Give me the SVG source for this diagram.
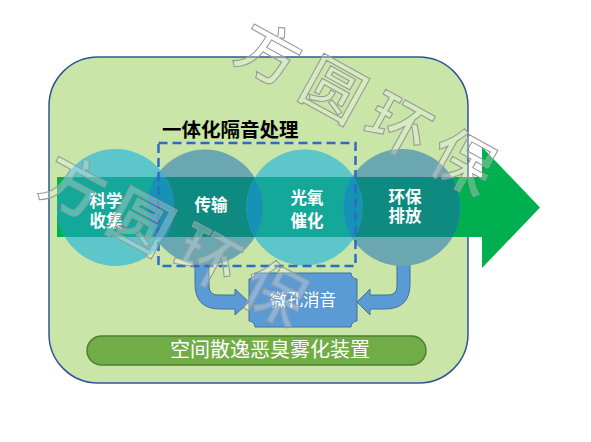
<svg xmlns="http://www.w3.org/2000/svg" width="591" height="442" viewBox="0 0 591 442">
  <defs>
    <clipPath id="cp1"><circle cx="115.5" cy="207.5" r="58.5"/></clipPath>
    <clipPath id="cp2"><circle cx="205" cy="207.5" r="58"/></clipPath>
    <clipPath id="cp3"><circle cx="304.5" cy="207.5" r="58"/></clipPath>
    <clipPath id="cp4"><circle cx="402" cy="207.5" r="58.5"/></clipPath>
    <style>
      .ctext{font-family:"Noto Sans CJK SC","Noto Sans",sans-serif;font-weight:bold;font-size:16.5px;fill:#ffffff;text-anchor:middle}
      .light{fill:#5cc6ca}
      .dark{fill:#6aa7b1}
      .lightband{fill:#14a89a}
      .darkband{fill:#0e8a81}
      .lens{fill:#45b0cc}
      .lensband{fill:#1592b6}
      .blue{fill:#5b9bd5;stroke:#41719c;stroke-width:1}
      .wm{font-family:"Noto Sans CJK SC",sans-serif;font-weight:500;font-size:62px;fill:#ffffff;fill-opacity:0.25;stroke:#9a9a9a;stroke-width:1.1;text-anchor:middle;dominant-baseline:central}
    </style>
  </defs>

  <g id="frame">
    <rect x="49" y="57" width="419" height="326" rx="49" ry="49" fill="#c9e5a8" stroke="#2f5597" stroke-width="1.5"/>
  </g>

  <g id="connectors">
    <path class="blue" d="M195,263 L195,284 Q195,309 220,309 L235,309 L235,315 L249,302 L235,289 L235,295 L218,295 Q209,295 209,286 L209,263 Z"/>
    <path class="blue" d="M410,263 L410,284 Q410,309 385,309 L370,309 L370,315 L357,302 L370,289 L370,295 L388,295 Q397,295 397,286 L397,263 Z"/>
  </g>

  <g id="main-arrow">
    <path d="M57,177 L482,177 L482,147 L540,207.5 L482,268 L482,237 L57,237 Z" fill="#00b050"/>
  </g>

  <g id="circles">
    <circle class="light" cx="115.5" cy="207.5" r="58.5"/>
    <circle class="dark" cx="205" cy="207.5" r="58"/>
    <circle class="light" cx="304.5" cy="207.5" r="58"/>
    <circle class="dark" cx="402" cy="207.5" r="58.5"/>
    <rect class="lightband" x="57" y="177" width="425" height="60" clip-path="url(#cp1)"/>
    <rect class="darkband" x="57" y="177" width="425" height="60" clip-path="url(#cp2)"/>
    <rect class="lightband" x="57" y="177" width="425" height="60" clip-path="url(#cp3)"/>
    <rect class="darkband" x="57" y="177" width="425" height="60" clip-path="url(#cp4)"/>
    <g clip-path="url(#cp1)"><circle class="lens" cx="205" cy="207.5" r="58"/><rect class="lensband" x="57" y="177" width="425" height="60" clip-path="url(#cp2)"/></g>
    <g clip-path="url(#cp2)"><circle class="lens" cx="304.5" cy="207.5" r="58"/><rect class="lensband" x="57" y="177" width="425" height="60" clip-path="url(#cp3)"/></g>
    <g clip-path="url(#cp3)"><circle class="lens" cx="402" cy="207.5" r="58.5"/><rect class="lensband" x="57" y="177" width="425" height="60" clip-path="url(#cp4)"/></g>
  </g>

  <g id="group-box">
    <rect x="158.5" y="143" width="197" height="123" fill="none" stroke="#2e6cc4" stroke-width="2.5" stroke-dasharray="9,5"/>
    <text x="162" y="137" font-family="Noto Sans CJK SC,sans-serif" font-weight="bold" font-size="19.5" fill="#000000">一体化隔音处理</text>
  </g>

  <g id="node-collect"><text class="ctext" x="106" y="207">科学</text><text class="ctext" x="106" y="227">收集</text></g>
  <g id="node-transfer"><text class="ctext" x="211" y="211">传输</text></g>
  <g id="node-photo"><text class="ctext" x="307" y="204">光氧</text><text class="ctext" x="307" y="227">催化</text></g>
  <g id="node-discharge"><text class="ctext" x="405" y="203">环保</text><text class="ctext" x="405" y="222">排放</text></g>

  <g id="node-silencer">
    <path class="blue" d="M255,273 L351,273 A6,6 0 0 0 357,279 L357,321 A6,6 0 0 0 351,327 L255,327 A6,6 0 0 0 249,321 L249,279 A6,6 0 0 0 255,273 Z"/>
    <text x="303" y="306" font-family="Noto Sans CJK SC,sans-serif" font-size="16.5" fill="#ffffff" text-anchor="middle">微孔消音</text>
  </g>

  <g id="node-spray">
    <rect x="87" y="336" width="339" height="29" rx="14.5" ry="14.5" fill="#70ad47" stroke="#507e32" stroke-width="1.5"/>
    <text x="270" y="357" font-family="Noto Sans CJK SC,sans-serif" font-size="20" fill="#ffffff" text-anchor="middle">空间散逸恶臭雾化装置</text>
  </g>

  <g id="watermark">
    <g transform="translate(368,104) rotate(29)"><text class="wm" x="-111 -37 37 111" y="0">方圆环保</text></g>
    <g transform="translate(176.5,236) rotate(28)"><text class="wm" x="-114 -38 38 114" y="0">方圆环保</text></g>
  </g>
</svg>
